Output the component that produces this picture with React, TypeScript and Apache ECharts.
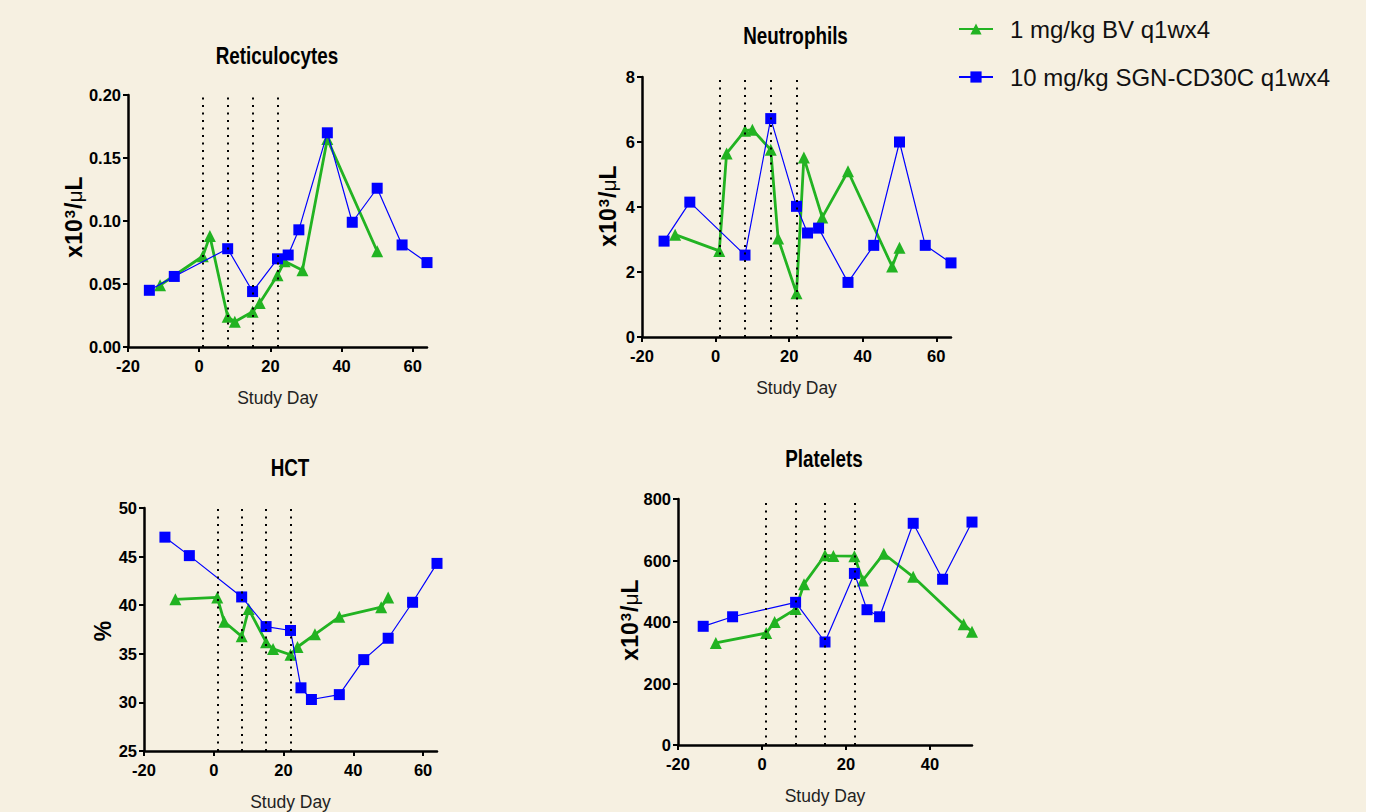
import React, { useEffect, useRef } from "react";
import * as echarts from "echarts";

// ---------- data ----------
const seriesNames = ["1 mg/kg BV q1wx4", "10 mg/kg SGN-CD30C q1wx4"];
const doseDays = [1, 8, 15, 22];
const xTicks = [-20, 0, 20, 40, 60];
const xTicksPlt = [-20, 0, 20, 40];

const daysG = [-11, 1, 3, 8, 10, 15, 17, 22, 24, 29, 36, 48, 50];
const daysRetG = [-11, 1, 3, 8, 10, 15, 17, 22, 24, 29, 36, 50];
const daysB = [-14, -7, 8, 15, 22, 25, 28, 36, 43, 50, 57, 64];
const daysPltB = [-14, -7, 8, 15, 22, 25, 28, 36, 43, 50];

const retG = [0.049, 0.072, 0.088, 0.024, 0.02, 0.028, 0.035, 0.057, 0.068, 0.061, 0.165, 0.076];
const retB = [0.045, 0.056, 0.078, 0.044, 0.07, 0.073, 0.093, 0.17, 0.099, 0.126, 0.081, 0.067];

const neutG = [3.15, 2.65, 5.65, 6.35, 6.38, 5.76, 3.03, 1.35, 5.52, 3.68, 5.1, 2.17, 2.75];
const neutB = [2.95, 4.15, 2.52, 6.72, 4.02, 3.2, 3.35, 1.68, 2.82, 6.0, 2.82, 2.28];

const hctG = [40.6, 40.8, 38.3, 36.8, 39.6, 36.2, 35.5, 34.9, 35.7, 37.0, 38.8, 39.8, 40.8];
const hctB = [47.0, 45.1, 40.85, 37.8, 37.4, 31.5, 30.3, 30.8, 34.4, 36.6, 40.3, 44.3];

const pltG = [332, 364, 400, 442, 523, 617, 615, 614, 535, 622, 547, 393, 368];
const pltB = [386, 417, 464, 335, 558, 440, 417, 721, 539, 725];

const panelTitles = ["Reticulocytes", "Neutrophils", "HCT", "Platelets"];

// ---------- styles ----------
const GREEN = "#22B322";
const BLUE = "#0000FF";
const BG = "#F6F0E1";
const SANS = "'Liberation Sans', Arial, sans-serif";

const zip = (xs: number[], ys: number[]) => xs.map((x, i) => [x, ys[i]]);

export default function App() {
  const ref = useRef<HTMLDivElement>(null);
  useEffect(() => {
    if (!ref.current) return;
    const chart = echarts.init(ref.current, null, { renderer: "svg" });

    const grids = [
      { left: 128, top: 95, width: 299, height: 252 },
      { left: 642, top: 77, width: 309, height: 260 },
      { left: 144, top: 508, width: 293, height: 246 },
      { left: 678, top: 499, width: 294, height: 246 },
    ];
    const titlePos = [
      [277, 55.5],
      [795.5, 35.5],
      [290, 467.5],
      [824, 459],
    ];

    const axisCommon = {
      axisLine: { onZero: false, lineStyle: { color: "#000", width: 2.5 } },
      axisTick: { show: true, inside: false, length: 5, lineStyle: { color: "#000", width: 2 } },
      splitLine: { show: false },
    };
    const labelStyle = {
      color: "#000",
      fontFamily: SANS,
      fontWeight: "bold" as const,
      fontSize: 16.5,
    };

    const xAxes = grids.map((g, i) => {
      const ticks = i === 3 ? xTicksPlt : xTicks;
      return {
        type: "value",
        gridIndex: i,
        min: -20,
        max: i === 3 ? 50 : 64,
        ...axisCommon,
        axisTick: { ...axisCommon.axisTick, customValues: ticks },
        axisLabel: { ...labelStyle, margin: 10, customValues: ticks },
        name: "Study Day",
        nameLocation: "middle",
        nameGap: 42,
        nameTextStyle: { color: "#222", fontFamily: SANS, fontSize: 17.5 },
      };
    });

    const yRanges = [
      { min: 0, max: 0.2, interval: 0.05, fmt: (v: number) => v.toFixed(2) },
      { min: 0, max: 8, interval: 2, fmt: (v: number) => String(v) },
      { min: 25, max: 50, interval: 5, fmt: (v: number) => String(v) },
      { min: 0, max: 800, interval: 200, fmt: (v: number) => String(v) },
    ];
    const yAxes = yRanges.map((r, i) => ({
      type: "value",
      gridIndex: i,
      min: r.min,
      max: r.max,
      interval: r.interval,
      ...axisCommon,
      axisLabel: { ...labelStyle, margin: 7, formatter: r.fmt },
    }));

    const panels = [
      [zip(daysRetG, retG), zip(daysB, retB)],
      [zip(daysG, neutG), zip(daysB, neutB)],
      [zip(daysG, hctG), zip(daysB, hctB)],
      [zip(daysG, pltG), zip(daysPltB, pltB)],
    ];

    const series: any[] = [];
    panels.forEach((p, i) => {
      series.push({
        name: seriesNames[0],
        type: "line",
        xAxisIndex: i,
        yAxisIndex: i,
        data: p[0],
        symbol: "triangle",
        symbolSize: 12,
        color: GREEN,
        lineStyle: { color: GREEN, width: 2.8 },
        itemStyle: { color: GREEN },
        z: 3,
        markLine: {
          silent: true,
          symbol: ["none", "none"],
          label: { show: false },
          lineStyle: { color: "#000", type: [2, 5.5], width: 2 },
          emphasis: { disabled: true },
          data: doseDays.map((d) => ({ xAxis: d })),
        },
      });
      series.push({
        name: seriesNames[1],
        type: "line",
        xAxisIndex: i,
        yAxisIndex: i,
        data: p[1],
        symbol: "rect",
        symbolSize: 11,
        color: BLUE,
        lineStyle: { color: BLUE, width: 1.2 },
        itemStyle: { color: BLUE },
        z: 4,
      });
    });

    const yNameRich = {
      a: { fontFamily: SANS, fontWeight: "bold", fontSize: 23, color: "#000" },
      s: { fontFamily: SANS, fontWeight: "bold", fontSize: 15, color: "#000", verticalAlign: "top", padding: [0, 1, 10, 1] },
      m: { fontFamily: SANS, fontWeight: "normal", fontSize: 21, color: "#000" },
    };
    const yNamePos = [
      [74, 217],
      [608, 206],
      [103, 631],
      [630, 620],
    ];
    const yNames = yNamePos.map((pos, i) => ({
      type: "text",
      x: pos[0],
      y: pos[1],
      rotation: Math.PI / 2,
      style: {
        text: i === 2 ? "{a|%}" : "{a|x10}{s|3}{a|/}{m|μ}{a|L}",
        rich: yNameRich,
        align: "center",
        verticalAlign: "middle",
      },
    }));
    const titles = panelTitles.map((t, i) => ({
      type: "text",
      x: titlePos[i][0],
      y: titlePos[i][1],
      scaleX: 0.82,
      style: {
        text: t,
        fontFamily: SANS,
        fontWeight: "bold",
        fontSize: 23,
        fill: "#000",
        align: "center",
        verticalAlign: "middle",
      },
    }));

    chart.setOption({
      animation: false,
      backgroundColor: BG,
      legend: {
        data: seriesNames,
        orient: "vertical",
        left: 958,
        top: 17,
        padding: 0,
        itemWidth: 34,
        itemHeight: 14,
        itemGap: 24,
        selectedMode: false,
        textStyle: { fontFamily: SANS, fontSize: 24, color: "#111", padding: [0, 0, 0, 12] },
      },
      grid: grids.map((g) => ({ ...g, containLabel: false })),
      xAxis: xAxes,
      yAxis: yAxes,
      series,
      graphic: [...titles, ...yNames],
    });
    return () => chart.dispose();
  }, []);

  return (
    <div style={{ position: "fixed", left: 0, top: 0, width: 1391, height: 812, background: "#fff" }}>
      <div ref={ref} style={{ width: 1366, height: 812 }} />
    </div>
  );
}
